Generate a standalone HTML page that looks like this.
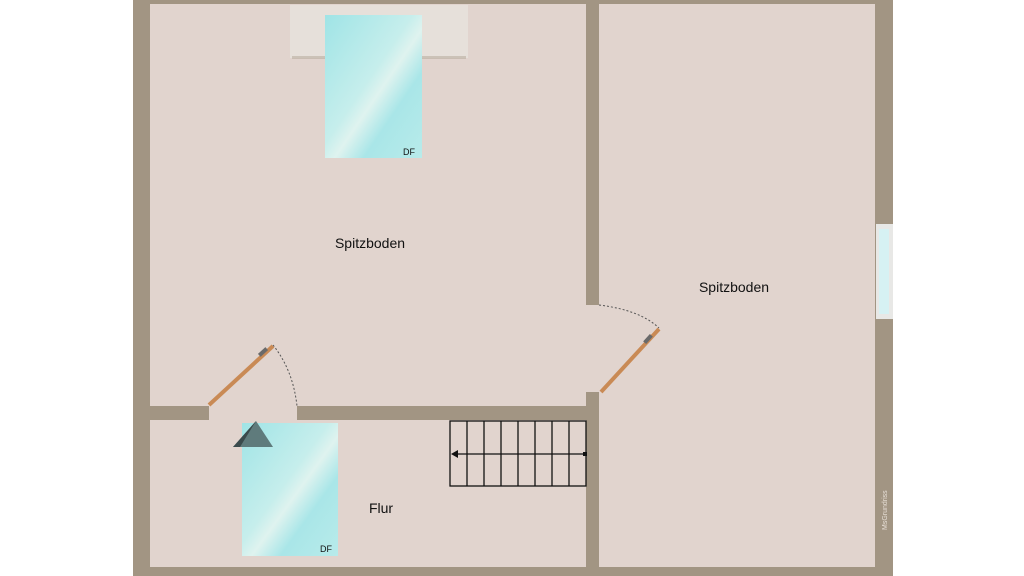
<!DOCTYPE html>
<html><head><meta charset="utf-8"><style>
body{margin:0;width:1024px;height:576px;background:#fff;overflow:hidden}
svg{display:block}
text{font-family:"Liberation Sans",sans-serif;fill:#111}
</style></head><body>
<svg width="1024" height="576" viewBox="0 0 1024 576">
<defs>
<linearGradient id="g" x1="0" y1="0" x2="1" y2="1">
<stop offset="0" stop-color="#9fe4e6"/><stop offset="0.45" stop-color="#c6eeec"/><stop offset="0.55" stop-color="#dff3ef"/><stop offset="0.7" stop-color="#a9e6e8"/><stop offset="1" stop-color="#b8ebea"/>
</linearGradient>
</defs>
<rect x="133" y="0" width="760" height="576" fill="#a29583"/>
<rect x="150" y="4" width="436" height="402" fill="#e1d4ce"/>
<rect x="599" y="4" width="276" height="563" fill="#e1d4ce"/>
<rect x="150" y="420" width="436" height="147" fill="#e1d4ce"/>
<rect x="586" y="305" width="13" height="87" fill="#e1d4ce"/>
<rect x="209" y="406" width="88" height="14" fill="#e1d4ce"/>
<!-- right window -->
<rect x="876" y="224" width="17" height="95" fill="#e8e8e6"/>
<rect x="879" y="229" width="10" height="85" fill="#d6f1f3"/>
<!-- top skylight -->
<rect x="290" y="5" width="178" height="53" fill="#e6e0da"/>
<rect x="292" y="56" width="174" height="3" fill="#b9ada0" opacity="0.6"/>
<rect x="325" y="15" width="97" height="143" fill="url(#g)"/>
<text x="403" y="155" font-size="9">DF</text>
<!-- bottom skylight -->
<rect x="242" y="423" width="96" height="133" fill="url(#g)"/>
<text x="320" y="552" font-size="9">DF</text>
<polygon points="256,421 233,447 273,447" fill="#5f7b7c"/>
<polygon points="256,421 233,447 240,447" fill="#3a4a4c"/>
<!-- stairs -->
<g stroke="#111" stroke-width="1.3" fill="none">
<rect x="450" y="421" width="136" height="65"/>
<line x1="467" y1="421" x2="467" y2="486"/><line x1="484" y1="421" x2="484" y2="486"/>
<line x1="501" y1="421" x2="501" y2="486"/><line x1="518" y1="421" x2="518" y2="486"/>
<line x1="535" y1="421" x2="535" y2="486"/><line x1="552" y1="421" x2="552" y2="486"/>
<line x1="569" y1="421" x2="569" y2="486"/>
<line x1="455" y1="454" x2="586" y2="454"/>
</g>
<polygon points="451,454 458,450 458,458" fill="#111"/>
<rect x="583" y="452" width="4" height="4" fill="#111"/>
<!-- doors -->
<g stroke="#555" stroke-width="1" stroke-dasharray="2,2" fill="none">
<path d="M273,345 Q293,370 297,406"/>
<path d="M599,305 Q640,310 659,328"/>
</g>
<line x1="209" y1="405" x2="273" y2="346" stroke="#c98a55" stroke-width="4"/>
<line x1="601" y1="392" x2="659" y2="329" stroke="#c98a55" stroke-width="4"/>
<rect x="258" y="350" width="10" height="4" fill="#6a6a6a" transform="rotate(-42 263 352)"/>
<rect x="643" y="337" width="10" height="4" fill="#6a6a6a" transform="rotate(-48 648 339)"/>
<text x="370" y="248" font-size="14" text-anchor="middle">Spitzboden</text>
<text x="734" y="292" font-size="14" text-anchor="middle">Spitzboden</text>
<text x="381" y="513" font-size="14" text-anchor="middle">Flur</text>
<text x="0" y="0" font-size="7" fill="#e8e0d8" style="fill:#e8e0d8" transform="translate(887,530) rotate(-90)">MsGrundriss</text>
</svg>
</body></html>
